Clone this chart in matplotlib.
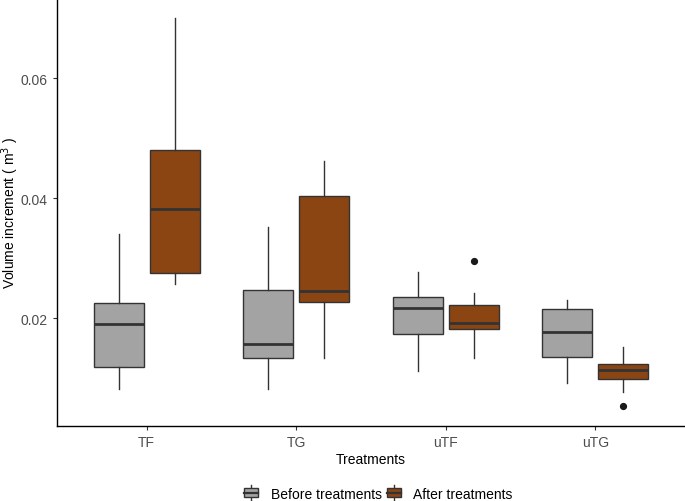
import matplotlib
matplotlib.use("Agg")
import matplotlib.pyplot as plt
from matplotlib.legend_handler import HandlerBase
from matplotlib.patches import Rectangle
from matplotlib.lines import Line2D

plt.rcParams['font.family'] = ['Liberation Sans', 'DejaVu Sans']

treatments = ['TF', 'TG', 'uTF', 'uTG']
groups = ['Before treatments', 'After treatments']
colors = ['#A3A3A3', '#8B4513']

# box statistics: low whisker, Q1, median, Q3, high whisker
before_whislo = [0.0083, 0.0082, 0.0113, 0.0092]
before_q1 = [0.0119, 0.0134, 0.0174, 0.0136]
before_med = [0.0191, 0.0157, 0.0218, 0.0178]
before_q3 = [0.0225, 0.0248, 0.0235, 0.0216]
before_whishi = [0.0340, 0.0353, 0.0277, 0.0231]
before_fliers = [[], [], [], []]

after_whislo = [0.0257, 0.0134, 0.0134, 0.0077]
after_q1 = [0.0275, 0.0227, 0.0183, 0.0100]
after_med = [0.0382, 0.0245, 0.0193, 0.0114]
after_q3 = [0.0481, 0.0404, 0.0223, 0.0125]
after_whishi = [0.0700, 0.0462, 0.0243, 0.0152]
after_fliers = [[], [], [0.0295], [0.0054]]


def make_stats(lo, q1, med, q3, hi, fl):
    return [dict(whislo=a, q1=b, med=c, q3=d, whishi=e, fliers=f)
            for a, b, c, d, e, f in zip(lo, q1, med, q3, hi, fl)]


class BoxKeyHandler(HandlerBase):
    # ggplot-like boxplot key: box, median line and short whiskers
    def __init__(self, color):
        super().__init__()
        self.color = color

    def create_artists(self, legend, orig_handle, xdescent, ydescent,
                       width, height, fontsize, trans):
        w = width * 0.72
        x0 = (width - w) / 2 - xdescent
        h = height * 0.6
        y0 = -ydescent + (height - h) / 2
        rect = Rectangle((x0, y0), w, h, facecolor=self.color,
                         edgecolor='#333333', lw=1.0, transform=trans)
        med = Line2D([x0, x0 + w], [y0 + h / 2] * 2, color='#333333',
                     lw=1.6, transform=trans)
        xc = x0 + w / 2
        top = Line2D([xc, xc], [y0 + h, -ydescent + height],
                     color='#333333', lw=1.0, transform=trans)
        bot = Line2D([xc, xc], [-ydescent, y0], color='#333333',
                     lw=1.0, transform=trans)
        return [top, bot, rect, med]


fig = plt.figure(figsize=(6.85, 5.02), dpi=100)
ax = fig.add_axes([57 / 685, 75.3 / 502, 628 / 685, 426.7 / 502])

xpos = list(range(1, len(treatments) + 1))
offset = 0.1875
bw = 0.335

all_stats = [
    make_stats(before_whislo, before_q1, before_med, before_q3, before_whishi, before_fliers),
    make_stats(after_whislo, after_q1, after_med, after_q3, after_whishi, after_fliers),
]

for i, stats in enumerate(all_stats):
    pos = [x + (i * 2 - 1) * offset for x in xpos]
    ax.bxp(stats, positions=pos, widths=bw, patch_artist=True, showcaps=False,
           boxprops=dict(facecolor=colors[i], edgecolor='#333333', lw=1.0),
           medianprops=dict(color='#333333', lw=2.0),
           whiskerprops=dict(color='#333333', lw=1.0),
           flierprops=dict(marker='o', markersize=4.2, markerfacecolor='#1a1a1a',
                           markeredgecolor='#1a1a1a'))

ax.set_xlim(0.4, 4.6)
ax.set_ylim(0.00217, 0.07314)
ax.set_xticks(xpos)
ax.set_xticklabels(treatments)
ax.set_yticks([0.02, 0.04, 0.06])
ax.set_yticklabels(['0.02', '0.04', '0.06'])
ax.tick_params(colors='#333333', labelcolor='#4D4D4D', labelsize=10, length=3, width=0.8)

for s in ['top', 'right']:
    ax.spines[s].set_visible(False)
for s in ['left', 'bottom']:
    ax.spines[s].set_color('black')
    ax.spines[s].set_linewidth(1.0)

ax.set_xlabel('Treatments', fontsize=10, labelpad=2)
ax.set_ylabel('Volume increment ( m$^3$ )', fontsize=10)
ax.yaxis.set_label_coords(-0.058, 0.5)

handles = [Rectangle((0, 0), 1, 1) for _ in groups]
h0, h1 = handles
fig.legend(handles, groups, loc='center', bbox_to_anchor=(377 / 685, 1 - 494 / 502),
           ncol=2, frameon=False, fontsize=10, handlelength=1.4, handleheight=1.25,
           handletextpad=0.7, columnspacing=0.15,
           handler_map={h0: BoxKeyHandler(colors[0]), h1: BoxKeyHandler(colors[1])})

fig.savefig('out.png', dpi=100)
